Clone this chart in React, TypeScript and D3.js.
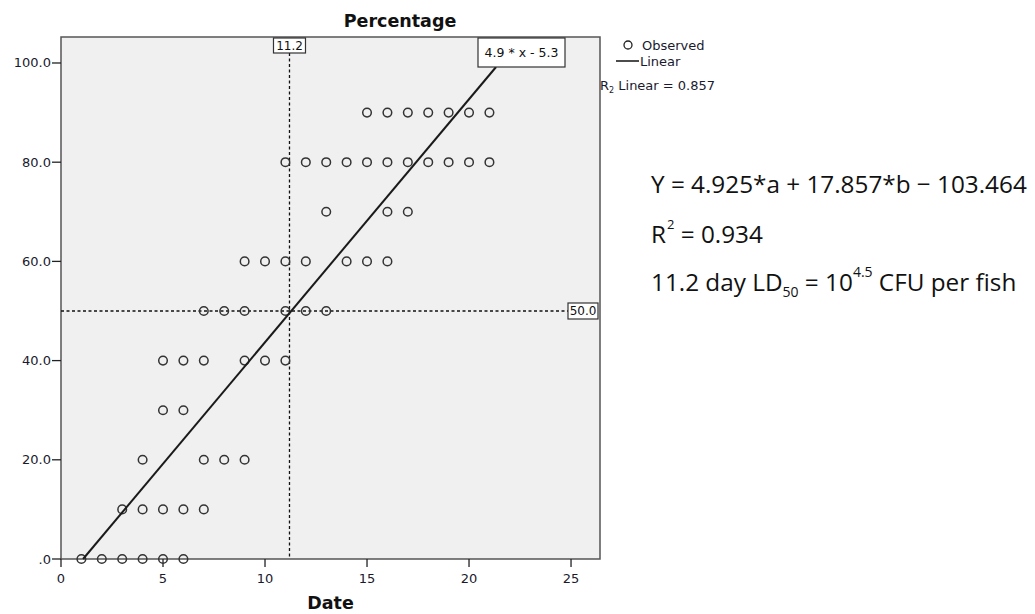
import React from "react";
import * as d3 from "d3";

const xTicks = [0, 5, 10, 15, 20, 25];
const yTicks = [0, 20, 40, 60, 80, 100];
const yTickLabels = [".0", "20.0", "40.0", "60.0", "80.0", "100.0"];

// observed days grouped by percentage level
const pctLevels = [0, 10, 20, 30, 40, 50, 60, 70, 80, 90];
const daysAt0 = [1, 2, 3, 4, 5, 6];
const daysAt10 = [3, 4, 5, 6, 7];
const daysAt20 = [4, 7, 8, 9];
const daysAt30 = [5, 6];
const daysAt40 = [5, 6, 7, 9, 10, 11];
const daysAt50 = [7, 8, 9, 11, 12, 13];
const daysAt60 = [9, 10, 11, 12, 14, 15, 16];
const daysAt70 = [13, 16, 17];
const daysAt80 = [11, 12, 13, 14, 15, 16, 17, 18, 19, 20, 21];
const daysAt90 = [15, 16, 17, 18, 19, 20, 21];
const daysByLevel = [daysAt0, daysAt10, daysAt20, daysAt30, daysAt40, daysAt50, daysAt60, daysAt70, daysAt80, daysAt90];

const slope = 4.9;
const intercept = -5.3;
const refX = 11.2;
const refY = 50.0;
const fitLabel = "4.9 * x - 5.3";

const points = pctLevels.flatMap((p, i) => daysByLevel[i].map((d) => ({ x: d, y: p })));

const FONT = "'DejaVu Sans', sans-serif";

export default function App() {
  const left = 61, right = 600, top = 37, bottom = 559;
  const x = d3.scaleLinear().domain([0, 26.42]).range([left, right]);
  const y = d3.scaleLinear().domain([0, 105.24]).range([bottom, top]);

  const fitBoxBottom = 67;
  const xStart = (0 - intercept) / slope;
  const yEnd = y.invert(fitBoxBottom);
  const xEnd = (yEnd - intercept) / slope;
  const line = d3.line<number>().x((d) => x(d)).y((d) => y(slope * d + intercept));

  const rx = x(refX);
  const ry = y(refY);

  return (
    <svg width={1035} height={614} style={{ position: "absolute", left: 0, top: 0, background: "#fff" }}>
      <text x={400} y={27} textAnchor="middle" fontFamily={FONT} fontWeight="bold" fontSize={17.5} fill="#111">Percentage</text>
      <rect x={left} y={top} width={right - left} height={bottom - top} fill="#f0f0f0" stroke="#555" strokeWidth={1.5} />

      {/* y axis ticks */}
      {yTicks.map((t, i) => (
        <g key={"y" + t}>
          <line x1={left - 9} x2={left} y1={y(t)} y2={y(t)} stroke="#222" strokeWidth={1.3} />
          <text x={left - 10} y={y(t) + 4.5} textAnchor="end" fontFamily={FONT} fontSize={13} fill="#1a1a2e">{yTickLabels[i]}</text>
        </g>
      ))}
      {/* x axis ticks */}
      {xTicks.map((t) => (
        <g key={"x" + t}>
          <line x1={x(t)} x2={x(t)} y1={bottom} y2={bottom + 8} stroke="#222" strokeWidth={1.3} />
          <text x={x(t)} y={bottom + 24} textAnchor="middle" fontFamily={FONT} fontSize={13} fill="#1a1a2e">{t}</text>
        </g>
      ))}
      <text x={(left + right) / 2} y={609} textAnchor="middle" fontFamily={FONT} fontWeight="bold" fontSize={17.5} fill="#111">Date</text>

      {/* reference lines */}
      <line x1={rx} x2={rx} y1={53} y2={bottom} stroke="#111" strokeWidth={1.3} strokeDasharray="3,2.5" />
      <line x1={left} x2={568} y1={ry} y2={ry} stroke="#111" strokeWidth={1.3} strokeDasharray="3,2.5" />

      {/* points */}
      {points.map((p, i) => (
        <circle key={i} cx={x(p.x)} cy={y(p.y)} r={4.3} fill="none" stroke="#333" strokeWidth={1.5} />
      ))}

      {/* fit line */}
      <path d={line([xStart, xEnd]) || ""} fill="none" stroke="#1a1a1a" strokeWidth={2} />

      {/* label boxes */}
      <rect x={rx - 16} y={38} width={32} height={15} fill="#fff" stroke="#333" strokeWidth={1.2} />
      <text x={rx} y={50} textAnchor="middle" fontFamily={FONT} fontSize={12} fill="#111">{refX.toFixed(1)}</text>
      <rect x={568} y={ry - 8} width={30} height={16} fill="#fff" stroke="#333" strokeWidth={1.2} />
      <text x={583} y={ry + 4.5} textAnchor="middle" fontFamily={FONT} fontSize={12} fill="#111">{refY.toFixed(1)}</text>
      <rect x={478} y={38} width={87} height={29} fill="#fff" stroke="#333" strokeWidth={1.2} />
      <text x={521.5} y={57} textAnchor="middle" fontFamily={FONT} fontSize={12.5} fill="#111">{fitLabel}</text>

      {/* legend */}
      <circle cx={628} cy={45} r={4} fill="none" stroke="#222" strokeWidth={1.3} />
      <text x={642} y={50} fontFamily={FONT} fontSize={13} fill="#1a1a2e">Observed</text>
      <line x1={616} x2={639} y1={61} y2={61} stroke="#111" strokeWidth={1.5} />
      <text x={640} y={66} fontFamily={FONT} fontSize={13} fill="#1a1a2e">Linear</text>
      <text x={600} y={90} fontFamily={FONT} fontSize={13} fill="#1a1a2e">
        R<tspan fontSize={8} dy={3}>2</tspan><tspan dy={-3}> Linear = 0.857</tspan>
      </text>

      {/* annotation text */}
      <g fontFamily="'Open Sans', sans-serif" fontSize={24.3} fill="#111">
        <text x={651} y={193}>Y = 4.925*a + 17.857*b − 103.464</text>
        <text x={651} y={243}>R<tspan fontSize={13} dx={1} dy={-14}>2</tspan><tspan dy={14}> = 0.934</tspan></text>
        <text x={651} y={291}>11.2 day LD<tspan fontSize={14} dy={6}>50</tspan><tspan dy={-6}> = 10</tspan><tspan fontSize={14} dy={-14}>4.5</tspan><tspan dy={14}> CFU per fish</tspan></text>
      </g>
    </svg>
  );
}
